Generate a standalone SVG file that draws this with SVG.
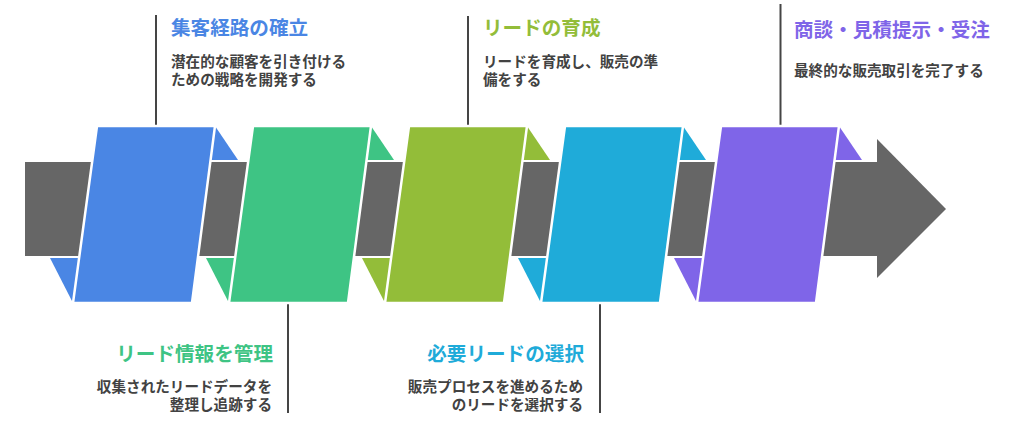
<svg xmlns="http://www.w3.org/2000/svg" width="1032" height="429" viewBox="0 0 1032 429">
<style>
.title{font-family:"Noto Sans CJK JP","Noto Sans",sans-serif;font-weight:700;font-size:19.6px}
.desc{font-family:"Noto Sans CJK JP","Noto Sans",sans-serif;font-weight:700;font-size:14.6px;fill:#424242}
.r{text-anchor:end}
.pg{stroke:#ffffff;stroke-width:2.5;stroke-linejoin:miter}
.lead{stroke:#454545;stroke-width:2;fill:none}
.c1{fill:#4a86e4}.c2{fill:#3ec484}.c3{fill:#93bd39}.c4{fill:#1fabd9}.c5{fill:#7f65e8}
</style>
<rect width="1032" height="429" fill="#ffffff"/>
<g id="arrow-body">
<rect x="25" y="162" width="853" height="94" fill="#666666"/>
<polygon points="877,139 946,209 877,278" fill="#666666"/>
</g>
<g id="connectors">
<line class="lead" x1="156" y1="15" x2="156" y2="126"/>
<line class="lead" x1="468" y1="16" x2="468" y2="126"/>
<line class="lead" x1="780.5" y1="4" x2="780.5" y2="126"/>
<line class="lead" x1="288" y1="303" x2="288" y2="413"/>
<line class="lead" x1="600" y1="303" x2="600" y2="413"/>
</g>
<g id="stage1">
<polygon class="c1" points="215,126 238,160 210,160"/>
<polygon class="c1" points="50,258 79,258 73,303"/>
<polygon class="c1 pg" points="97,126 215,126 192,303 73,303"/>
<text class="title c1" x="171" y="35">集客経路の確立</text>
<text class="desc" x="171" y="66.5">潜在的な顧客を引き付ける</text>
<text class="desc" x="171" y="84.5">ための戦略を開発する</text>
</g>
<g id="stage2">
<polygon class="c2" points="371,126 394,160 366,160"/>
<polygon class="c2" points="206,258 235,258 229,303"/>
<polygon class="c2 pg" points="253,126 371,126 348,303 229,303"/>
<text class="title c2 r" x="273" y="361">リード情報を管理</text>
<text class="desc r" x="272" y="391.5">収集されたリードデータを</text>
<text class="desc r" x="272" y="409.5">整理し追跡する</text>
</g>
<g id="stage3">
<polygon class="c3" points="527,126 550,160 522,160"/>
<polygon class="c3" points="362,258 391,258 385,303"/>
<polygon class="c3 pg" points="409,126 527,126 504,303 385,303"/>
<text class="title c3" x="483" y="35">リードの育成</text>
<text class="desc" x="483" y="66.5">リードを育成し、販売の準</text>
<text class="desc" x="483" y="84.5">備をする</text>
</g>
<g id="stage4">
<polygon class="c4" points="683,126 706,160 678,160"/>
<polygon class="c4" points="518,258 547,258 541,303"/>
<polygon class="c4 pg" points="565,126 683,126 660,303 541,303"/>
<text class="title c4 r" x="584" y="361">必要リードの選択</text>
<text class="desc r" x="583" y="391.5">販売プロセスを進めるため</text>
<text class="desc r" x="583" y="409.5">のリードを選択する</text>
</g>
<g id="stage5">
<polygon class="c5" points="839,126 862,160 834,160"/>
<polygon class="c5" points="674,258 703,258 697,303"/>
<polygon class="c5 pg" points="721,126 839,126 816,303 697,303"/>
<text class="title c5" x="794" y="37">商談・見積提示・受注</text>
<text class="desc" x="794" y="75.5">最終的な販売取引を完了する</text>
</g>
</svg>
